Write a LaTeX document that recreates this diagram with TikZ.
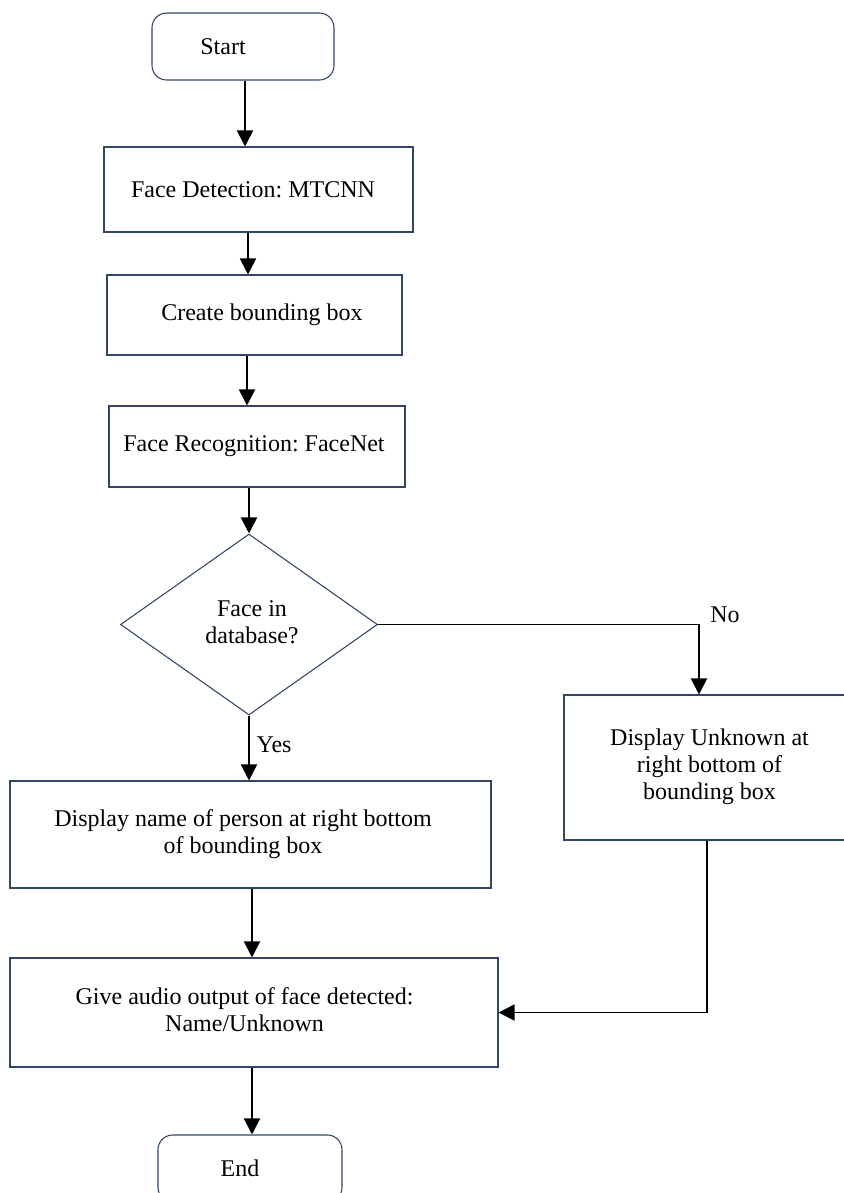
\documentclass[tikz,border=0pt]{standalone}
\usepackage{fontspec}
\setmainfont{Liberation Serif}
\usetikzlibrary{shapes.geometric,arrows.meta}
\definecolor{boxline}{RGB}{50,70,100}
\frenchspacing
\newcommand{\sx}[2]{\makebox[0pt]{\hspace*{#1}\hspace*{#1}#2}}
\newcommand{\ml}[1]{\begin{tabular}{@{}c@{}}#1\end{tabular}}
\begin{document}
\begin{tikzpicture}[x=0.75pt,y=-0.75pt,
  every node/.style={font=\fontsize{18pt}{20.25pt}\selectfont\frenchspacing, inner sep=0pt},
  procbox/.style={draw=boxline, line width=0.8pt, rectangle},
  termbox/.style={draw=boxline, line width=0.8pt, rectangle, rounded corners=11pt},
  decbox/.style={draw=boxline, line width=0.8pt, diamond, aspect=1.42},
  arr/.style={draw=black, line width=1.4pt, -{Triangle[width=12pt,length=12pt]}},
  conn/.style={draw=black, line width=1.4pt}]
\useasboundingbox[fill=white] (0,0) rectangle (843,1193);

\node[termbox, minimum width=136.5pt, minimum height=50.25pt] (start) at (243,46.5) {\sx{-15pt}{Start}};
\node[procbox, minimum width=231.75pt, minimum height=63.75pt] (fd) at (258.5,189.5) {\sx{-4.1pt}{Face Detection: MTCNN}};
\node[procbox, minimum width=221.25pt, minimum height=60pt] (cb) at (254.5,315) {\sx{5.6pt}{Create bounding box}};
\node[procbox, minimum width=222pt, minimum height=60.75pt] (fr) at (257,446.5) {\sx{-2.25pt}{Face Recognition: FaceNet}};
\node[decbox, minimum width=192.75pt, minimum height=135.75pt] (dia) at (249,624.5) {\sx{2.25pt}{\ml{Face in\\database?}}};
\node[procbox, minimum width=360.75pt, minimum height=80.25pt] (dn) at (250.5,834.5) {\sx{-5.6pt}{\ml{Display name of person at right bottom\\of bounding box}}};
\node[procbox, minimum width=218.25pt, minimum height=108.75pt] (unk) at (709.5,767.5) {\ml{Display Unknown at\\right bottom of\\bounding box}};
\node[procbox, minimum width=366pt, minimum height=81.75pt] (ga) at (254,1012.5) {\sx{-7.1pt}{\ml{Give audio output of face detected:\\Name/Unknown}}};
\node[termbox, minimum width=138pt, minimum height=50.25pt] (end) at (250,1168.5) {\sx{-7.5pt}{End}};

\draw[arr] ([xshift=1.5pt]start.south) -- ([xshift=1.5pt]start.south |- fd.north);
\draw[arr] ([xshift=-7.875pt]fd.south) -- ([xshift=-7.875pt]fd.south |- cb.north);
\draw[arr] ([xshift=-5.625pt]cb.south) -- ([xshift=-5.625pt]cb.south |- fr.north);
\draw[arr] (fr.south -| dia.north) -- (dia.north);
\draw[arr] (dia.south) -- node[right=5pt, pos=0.45] (yes) {Yes} (dia.south |- dn.north);
\draw[arr] (dia.east) -| ([xshift=-7.875pt]unk.north);
\node (no) at (725,615) {No};
\draw[arr] ([xshift=1.125pt]dn.south) -- ([xshift=1.125pt]dn.south |- ga.north);
\draw[arr] ([xshift=-1.875pt]unk.south) |- (ga.east);
\draw[arr] ([xshift=-1.5pt]ga.south) -- ([xshift=-1.5pt]ga.south |- end.north);
\end{tikzpicture}
\end{document}
